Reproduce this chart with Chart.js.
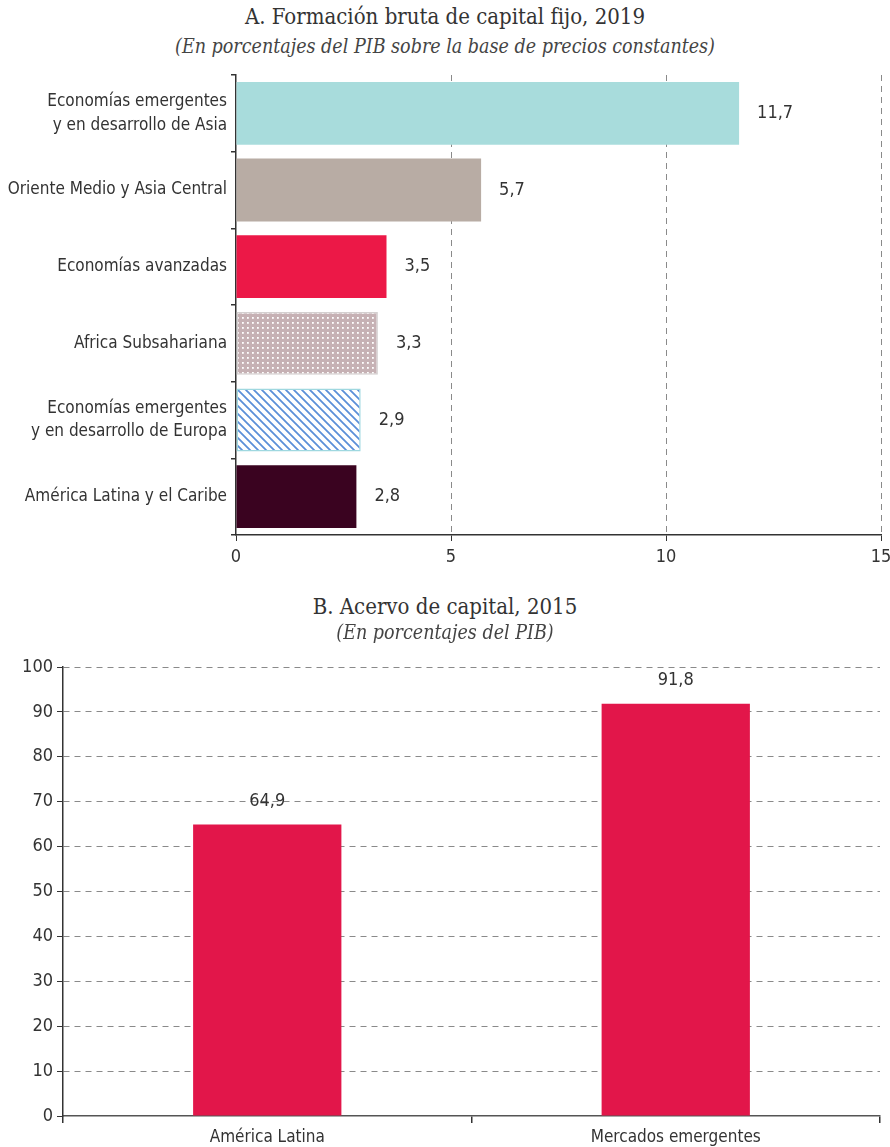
<!DOCTYPE html>
<html lang="es">
<head>
<meta charset="utf-8">
<script src="https://cdn.jsdelivr.net/npm/chart.js@4.4.1/dist/chart.umd.min.js"></script>
<style>
    html, body { margin: 0; padding: 0; background: #fff; }
    body { width: 890px; height: 1147px; position: relative; overflow: hidden; }
    .titulo { position: absolute; left: 0; width: 890px; text-align: center; color: #333; font-family: "DejaVu Serif Condensed", "DejaVu Serif", serif; white-space: nowrap; line-height: 1.2; }
    .t1 { font-size: 22px; }
    .t2 { font-size: 19.5px; font-style: italic; color: #444; }
    .panel { position: absolute; left: 0; }
</style>
</head>
<body>
<div class="titulo t1" style="top:4px;">A. Formación bruta de capital fijo, 2019</div>
<div class="titulo t2" style="top:35px;">(En porcentajes del PIB sobre la base de precios constantes)</div>
<div class="panel" style="top:0;"><canvas id="chartA" width="890" height="590"></canvas></div>

<div class="titulo t1" style="top:594px;">B. Acervo de capital, 2015</div>
<div class="titulo t2" style="top:621px;">(En porcentajes del PIB)</div>
<div class="panel" style="top:580px;"><canvas id="chartB" width="890" height="567"></canvas></div>

<script>
// Gráfico A: formación bruta de capital fijo
const regionesA = [
    ['Economías emergentes', 'y en desarrollo de Asia'],
    'Oriente Medio y Asia Central',
    'Economías avanzadas',
    'Africa Subsahariana',
    ['Economías emergentes', 'y en desarrollo de Europa'],
    'América Latina y el Caribe'
];
const valoresA = [11.7, 5.7, 3.5, 3.3, 2.9, 2.8];
const ticksA = [0, 5, 10, 15];

// Gráfico B: acervo de capital
const gruposB = ['América Latina', 'Mercados emergentes'];
const valoresB = [64.9, 91.8];
const ticksB = [0, 10, 20, 30, 40, 50, 60, 70, 80, 90, 100];

const FUENTE = '"DejaVu Sans Condensed", sans-serif';
const TEXTO = '#333';

// tramas para Africa (puntos) y Europa (rayas)
function tramaPuntos() {
    const c = document.createElement('canvas');
    c.width = 5; c.height = 5;
    const g = c.getContext('2d');
    g.fillStyle = '#c6b1b4';
    g.fillRect(0, 0, 5, 5);
    g.fillStyle = '#ffffff';
    g.fillRect(2, 2, 1.8, 1.8);
    return g.createPattern(c, 'repeat');
}
function tramaRayas() {
    const s = 8;
    const c = document.createElement('canvas');
    c.width = s; c.height = s;
    const g = c.getContext('2d');
    g.fillStyle = '#ffffff';
    g.fillRect(0, 0, s, s);
    g.strokeStyle = '#5b8fd8';
    g.lineWidth = 1.8;
    g.beginPath();
    g.moveTo(-2, -2); g.lineTo(s + 2, s + 2);
    g.moveTo(-2 - s, -2); g.lineTo(2, s + 2);
    g.moveTo(s - 2, -2); g.lineTo(2 * s + 2, s + 2);
    g.stroke();
    return g.createPattern(c, 'repeat');
}

const fmt = v => v.toFixed(1).replace('.', ',');

// etiquetas de valor junto a las barras
const etiquetasValor = {
    id: 'etiquetasValor',
    afterDatasetsDraw(chart) {
        const ctx = chart.ctx;
        const horizontal = chart.options.indexAxis === 'y';
        chart.data.datasets.forEach((ds, i) => {
            chart.getDatasetMeta(i).data.forEach((bar, j) => {
                ctx.save();
                ctx.fillStyle = TEXTO;
                ctx.font = '18px ' + FUENTE;
                if (horizontal) {
                    ctx.textAlign = 'left';
                    ctx.textBaseline = 'middle';
                    ctx.fillText(fmt(ds.data[j]), bar.x + 18, bar.y);
                } else {
                    ctx.textAlign = 'center';
                    ctx.textBaseline = 'bottom';
                    ctx.fillText(fmt(ds.data[j]), bar.x, bar.y - 14);
                }
                ctx.restore();
            });
        });
    }
};

new Chart(document.getElementById('chartA'), {
    type: 'bar',
    data: {
        labels: regionesA,
        datasets: [{
            data: valoresA,
            backgroundColor: ['#a8dcdc', '#b8aca4', '#ec1847', tramaPuntos(), tramaRayas(), '#3a0320'],
            borderColor: ['transparent', 'transparent', 'transparent', '#d4d0d0', '#9fd8e0', 'transparent'],
            borderWidth: [0, 0, 0, 1.5, 1.5, 0],
            borderSkipped: false,
            barPercentage: 0.82,
            categoryPercentage: 1
        }]
    },
    options: {
        indexAxis: 'y',
        responsive: false,
        animation: false,
        layout: { padding: { top: 75, bottom: 10, left: 0, right: 9 } },
        plugins: { legend: { display: false }, tooltip: { enabled: false } },
        scales: {
            x: {
                min: 0, max: 15,
                afterBuildTicks: s => { s.ticks = ticksA.map(v => ({ value: v })); },
                afterFit: s => { s.height = 45; s.paddingRight = 0; s.paddingLeft = 0; },
                ticks: { color: TEXTO, font: { family: FUENTE, size: 18 }, padding: 6 },
                grid: {
                    color: c => c.tick && c.tick.value === 0 ? 'transparent' : '#8a8a8a',
                    tickColor: '#333', tickLength: 6, lineWidth: 1
                },
                border: { color: '#333', width: 1.5, dash: [6, 5] }
            },
            y: {
                afterFit: s => { s.width = 236; },
                ticks: { color: TEXTO, font: { family: FUENTE, size: 17, lineHeight: 1.4 }, padding: 4 },
                grid: { offset: true, drawOnChartArea: false, tickLength: 5, color: '#333', lineWidth: 1.5 },
                border: { color: '#333', width: 1.5 }
            }
        }
    },
    plugins: [etiquetasValor]
});

new Chart(document.getElementById('chartB'), {
    type: 'bar',
    data: {
        labels: gruposB,
        datasets: [{
            data: valoresB,
            backgroundColor: '#e2164a',
            barPercentage: 0.363,
            categoryPercentage: 1
        }]
    },
    options: {
        responsive: false,
        animation: false,
        layout: { padding: { top: 87, bottom: 0, left: 0, right: 10 } },
        plugins: { legend: { display: false }, tooltip: { enabled: false } },
        scales: {
            x: {
                afterFit: s => { s.height = 31; },
                ticks: { color: TEXTO, font: { family: FUENTE, size: 17 }, padding: 4 },
                grid: { offset: true, drawOnChartArea: false, tickLength: 7, color: '#333', lineWidth: 1.5 },
                border: { color: '#555', width: 1.5 }
            },
            y: {
                min: 0, max: 100,
                afterBuildTicks: s => { s.ticks = ticksB.map(v => ({ value: v })); },
                afterFit: s => { s.width = 63; },
                ticks: { color: TEXTO, font: { family: FUENTE, size: 18 }, padding: 4 },
                grid: {
                    color: c => c.tick && c.tick.value === 0 ? 'transparent' : '#8a8a8a',
                    tickColor: '#333', tickLength: 6, lineWidth: 1
                },
                border: { color: '#333', width: 1.5, dash: [6, 5] }
            }
        }
    },
    plugins: [etiquetasValor]
});
</script>
</body>
</html>
